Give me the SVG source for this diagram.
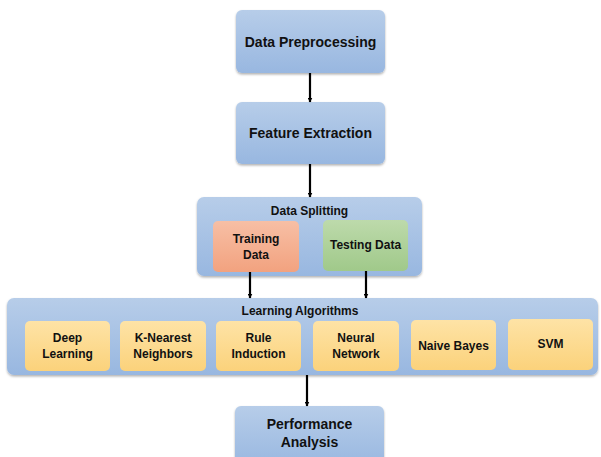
<svg xmlns="http://www.w3.org/2000/svg" width="601" height="457" viewBox="0 0 601 457">
<defs>
<linearGradient id="gb" x1="0" y1="0" x2="0" y2="1"><stop offset="0" stop-color="#b7cde9"/><stop offset="1" stop-color="#98b7e0"/></linearGradient>
<linearGradient id="go" x1="0" y1="0" x2="0" y2="1"><stop offset="0" stop-color="#f7bfa5"/><stop offset="1" stop-color="#f2a27f"/></linearGradient>
<linearGradient id="gg" x1="0" y1="0" x2="0" y2="1"><stop offset="0" stop-color="#bddaab"/><stop offset="1" stop-color="#a0c98a"/></linearGradient>
<linearGradient id="gy" x1="0" y1="0" x2="0" y2="1"><stop offset="0" stop-color="#fee3a6"/><stop offset="1" stop-color="#fbd27b"/></linearGradient>
<filter id="sh" x="-10%" y="-10%" width="120%" height="130%"><feDropShadow dx="0" dy="1.5" stdDeviation="1.2" flood-color="#000" flood-opacity="0.3"/></filter>
<marker id="ar" viewBox="0 0 10 10" refX="9" refY="5" markerWidth="5" markerHeight="5" orient="auto" markerUnits="userSpaceOnUse"><path d="M0,0 L10,5 L0,10 z" fill="#000"/></marker>
</defs>
<style>
.b{fill:url(#gb);filter:url(#sh)}
.o{fill:url(#go)}
.g{fill:url(#gg)}
.y{fill:url(#gy)}
text{font-family:"Liberation Sans",Arial,sans-serif;font-weight:bold;fill:#111;text-anchor:middle}
.t{font-size:14px}
.s{font-size:12px}
.c line{stroke:#000;stroke-width:2.2;marker-end:url(#ar)}
</style>
<rect width="601" height="457" fill="#fff"/>
<g id="data-preprocessing"><rect class="b" x="236" y="10" width="149" height="63" rx="6"/><text class="t" x="310.5" y="47">Data Preprocessing</text></g>
<g id="feature-extraction"><rect class="b" x="236" y="102" width="149" height="62" rx="6"/><text class="t" x="310.5" y="138">Feature Extraction</text></g>
<g id="data-splitting"><rect class="b" x="197" y="197" width="225" height="79" rx="7"/><text class="s" x="309.5" y="215">Data Splitting</text></g>
<g id="training-data"><rect class="o" x="213" y="221" width="86" height="51" rx="5"/><text class="s" x="256" y="243">Training</text><text class="s" x="256" y="259">Data</text></g>
<g id="testing-data"><rect class="g" x="323" y="220" width="85" height="51" rx="5"/><text class="s" x="365.5" y="249">Testing Data</text></g>
<g id="learning-algorithms"><rect class="b" x="7" y="298" width="591" height="77" rx="7"/><text class="s" x="300" y="315">Learning Algorithms</text></g>
<g id="deep-learning"><rect class="y" x="25" y="321" width="85" height="50" rx="5"/><text class="s" x="67.5" y="342">Deep</text><text class="s" x="67.5" y="358">Learning</text></g>
<g id="knn"><rect class="y" x="120" y="321" width="86" height="50" rx="5"/><text class="s" x="163" y="342">K-Nearest</text><text class="s" x="163" y="358">Neighbors</text></g>
<g id="rule-induction"><rect class="y" x="216" y="321" width="85" height="50" rx="5"/><text class="s" x="258.5" y="342">Rule</text><text class="s" x="258.5" y="358">Induction</text></g>
<g id="neural-network"><rect class="y" x="313" y="321" width="86" height="50" rx="5"/><text class="s" x="356" y="342">Neural</text><text class="s" x="356" y="358">Network</text></g>
<g id="naive-bayes"><rect class="y" x="411" y="320" width="85" height="50" rx="5"/><text class="s" x="453.5" y="350">Naive Bayes</text></g>
<g id="svm"><rect class="y" x="508" y="319" width="85" height="51" rx="5"/><text class="s" x="550.5" y="348">SVM</text></g>
<g id="performance-analysis"><rect class="b" x="235" y="406" width="149" height="62" rx="6"/><text class="t" x="309.5" y="429">Performance</text><text class="t" x="309.5" y="447">Analysis</text></g>
<g class="c" id="connectors">
<line x1="310" y1="73" x2="310" y2="102"/>
<line x1="310" y1="164" x2="310" y2="197"/>
<line x1="250" y1="272" x2="250" y2="298"/>
<line x1="366" y1="271" x2="366" y2="298"/>
<line x1="307" y1="375" x2="307" y2="406"/>
</g>
</svg>
